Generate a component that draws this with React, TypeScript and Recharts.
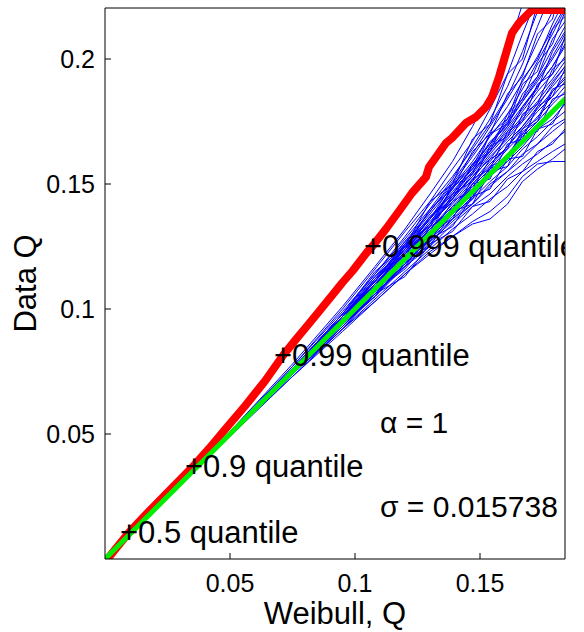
import React from 'react';
import { ComposedChart, Line, Scatter, XAxis, YAxis } from 'recharts';

const FONT = '"Liberation Sans", Arial, Helvetica, sans-serif';

// observed data quantiles (red) against Weibull quantiles
const dataTheo = [
  0.001, 0.005, 0.0096, 0.016, 0.024, 0.0356, 0.042, 0.048, 0.056, 0.064,
  0.0712, 0.076, 0.081, 0.086, 0.0908, 0.095, 0.099, 0.1044,
  0.1072, 0.1125, 0.1188, 0.1228, 0.1284, 0.1296, 0.1364, 0.1388, 0.1444, 0.1484,
  0.1524, 0.1548, 0.1576, 0.1596, 0.1628, 0.1656, 0.1708, 0.184,
];
const dataQ = [
  0.0, 0.005, 0.0106, 0.0174, 0.0256, 0.0374, 0.0446, 0.0518, 0.0612, 0.0712,
  0.0814, 0.0874, 0.0934, 0.0995, 0.1054, 0.1106, 0.1152, 0.1222,
  0.1254, 0.1322, 0.1408, 0.1464, 0.1528, 0.1568, 0.1664, 0.1684, 0.1744, 0.1768,
  0.1808, 0.1848, 0.1928, 0.1996, 0.2104, 0.2144, 0.2196, 0.2196,
];

// fitted Weibull line y = x
const fitTheo = [0, 0.184];
const fitQ = [0, 0.184];

// simulated samples, all on the same theoretical quantiles
const simTheo = [0.05, 0.075, 0.095, 0.108, 0.12, 0.13, 0.139, 0.147, 0.154, 0.161, 0.167, 0.173, 0.179, 0.184];
const simRuns = [
  [0.051, 0.078, 0.101, 0.117, 0.132, 0.146, 0.159, 0.173, 0.186, 0.203, 0.222, 0.243, 0.262, 0.280],
  [0.050, 0.077, 0.100, 0.116, 0.131, 0.143, 0.156, 0.167, 0.180, 0.194, 0.210, 0.225, 0.239, 0.254],
  [0.051, 0.077, 0.099, 0.114, 0.129, 0.142, 0.153, 0.164, 0.174, 0.185, 0.198, 0.213, 0.228, 0.242],
  [0.050, 0.076, 0.098, 0.113, 0.127, 0.139, 0.151, 0.162, 0.173, 0.184, 0.194, 0.207, 0.219, 0.230],
  [0.050, 0.076, 0.097, 0.112, 0.126, 0.138, 0.149, 0.159, 0.169, 0.178, 0.188, 0.199, 0.210, 0.220],
  [0.050, 0.076, 0.097, 0.112, 0.125, 0.136, 0.148, 0.158, 0.166, 0.176, 0.184, 0.193, 0.204, 0.213],
  [0.050, 0.076, 0.098, 0.111, 0.125, 0.137, 0.146, 0.157, 0.166, 0.174, 0.183, 0.191, 0.200, 0.208],
  [0.050, 0.075, 0.097, 0.111, 0.124, 0.136, 0.146, 0.155, 0.164, 0.173, 0.181, 0.189, 0.197, 0.205],
  [0.050, 0.076, 0.096, 0.111, 0.124, 0.134, 0.145, 0.155, 0.163, 0.171, 0.179, 0.187, 0.194, 0.201],
  [0.050, 0.075, 0.096, 0.110, 0.123, 0.135, 0.145, 0.153, 0.162, 0.170, 0.177, 0.185, 0.192, 0.199],
  [0.050, 0.076, 0.097, 0.110, 0.122, 0.133, 0.144, 0.153, 0.160, 0.169, 0.176, 0.183, 0.191, 0.197],
  [0.050, 0.075, 0.096, 0.109, 0.123, 0.134, 0.143, 0.152, 0.161, 0.168, 0.175, 0.182, 0.189, 0.195],
  [0.050, 0.075, 0.095, 0.109, 0.122, 0.132, 0.142, 0.151, 0.159, 0.167, 0.173, 0.180, 0.187, 0.193],
  [0.050, 0.075, 0.096, 0.108, 0.121, 0.132, 0.141, 0.150, 0.157, 0.165, 0.172, 0.179, 0.185, 0.191],
  [0.050, 0.075, 0.095, 0.109, 0.120, 0.131, 0.140, 0.149, 0.156, 0.164, 0.170, 0.177, 0.183, 0.189],
  [0.050, 0.075, 0.095, 0.108, 0.120, 0.130, 0.140, 0.147, 0.155, 0.162, 0.169, 0.175, 0.182, 0.187],
  [0.050, 0.075, 0.094, 0.108, 0.119, 0.129, 0.139, 0.146, 0.154, 0.160, 0.167, 0.174, 0.179, 0.185],
  [0.050, 0.074, 0.094, 0.106, 0.118, 0.128, 0.136, 0.144, 0.151, 0.157, 0.164, 0.169, 0.175, 0.179],
  [0.050, 0.074, 0.093, 0.106, 0.117, 0.127, 0.135, 0.142, 0.149, 0.155, 0.160, 0.166, 0.171, 0.175],
  [0.050, 0.074, 0.093, 0.105, 0.117, 0.125, 0.134, 0.141, 0.146, 0.153, 0.158, 0.162, 0.167, 0.171],
  [0.050, 0.074, 0.092, 0.104, 0.115, 0.124, 0.132, 0.138, 0.144, 0.149, 0.155, 0.159, 0.163, 0.166],
  [0.050, 0.073, 0.092, 0.103, 0.114, 0.122, 0.129, 0.135, 0.139, 0.145, 0.153, 0.158, 0.159, 0.159],
  [0.049, 0.073, 0.091, 0.103, 0.114, 0.123, 0.129, 0.134, 0.136, 0.142, 0.151, 0.156, 0.160, 0.164],
  [0.050, 0.076, 0.097, 0.111, 0.126, 0.139, 0.150, 0.161, 0.171, 0.181, 0.191, 0.201, 0.212, 0.221],
  [0.050, 0.076, 0.098, 0.114, 0.128, 0.140, 0.152, 0.165, 0.176, 0.189, 0.203, 0.219, 0.237, 0.252],
  [0.050, 0.076, 0.096, 0.110, 0.124, 0.136, 0.147, 0.156, 0.165, 0.175, 0.183, 0.192, 0.201, 0.210],
  [0.050, 0.075, 0.094, 0.107, 0.121, 0.132, 0.140, 0.150, 0.158, 0.165, 0.173, 0.181, 0.190, 0.197],
  [0.050, 0.074, 0.094, 0.105, 0.118, 0.126, 0.136, 0.142, 0.150, 0.155, 0.162, 0.166, 0.173, 0.176],
  [0.050, 0.075, 0.096, 0.110, 0.122, 0.134, 0.144, 0.154, 0.163, 0.172, 0.180, 0.189, 0.197, 0.206],
  [0.050, 0.075, 0.095, 0.107, 0.118, 0.129, 0.137, 0.145, 0.153, 0.159, 0.165, 0.172, 0.176, 0.182],
  [0.050, 0.076, 0.097, 0.111, 0.127, 0.136, 0.150, 0.157, 0.170, 0.176, 0.192, 0.200, 0.214, 0.224],
  [0.050, 0.075, 0.096, 0.112, 0.122, 0.137, 0.144, 0.158, 0.163, 0.178, 0.184, 0.198, 0.206, 0.219],
  [0.050, 0.076, 0.095, 0.109, 0.124, 0.131, 0.146, 0.151, 0.165, 0.169, 0.181, 0.188, 0.203, 0.211],
  [0.050, 0.074, 0.096, 0.107, 0.122, 0.129, 0.143, 0.148, 0.160, 0.164, 0.178, 0.182, 0.196, 0.200],
  [0.050, 0.075, 0.094, 0.109, 0.117, 0.131, 0.136, 0.150, 0.152, 0.166, 0.168, 0.181, 0.185, 0.196],
  [0.050, 0.075, 0.096, 0.106, 0.121, 0.127, 0.141, 0.145, 0.157, 0.160, 0.172, 0.176, 0.188, 0.190],
  [0.050, 0.074, 0.093, 0.107, 0.116, 0.128, 0.133, 0.145, 0.148, 0.160, 0.161, 0.172, 0.174, 0.183],
  [0.050, 0.076, 0.098, 0.115, 0.125, 0.143, 0.150, 0.168, 0.174, 0.194, 0.200, 0.222, 0.230, 0.250],
  [0.050, 0.075, 0.097, 0.108, 0.126, 0.133, 0.149, 0.154, 0.170, 0.174, 0.190, 0.195, 0.212, 0.217],
  [0.050, 0.074, 0.095, 0.105, 0.120, 0.125, 0.139, 0.142, 0.155, 0.157, 0.170, 0.171, 0.184, 0.186],
  [0.050, 0.075, 0.094, 0.110, 0.118, 0.133, 0.138, 0.152, 0.156, 0.171, 0.175, 0.190, 0.194, 0.209],
  [0.050, 0.076, 0.097, 0.113, 0.124, 0.140, 0.148, 0.163, 0.170, 0.186, 0.193, 0.210, 0.216, 0.235],
  [0.050, 0.074, 0.092, 0.106, 0.113, 0.126, 0.131, 0.141, 0.143, 0.152, 0.155, 0.163, 0.166, 0.172],
  [0.050, 0.075, 0.095, 0.107, 0.120, 0.128, 0.138, 0.144, 0.156, 0.160, 0.171, 0.175, 0.187, 0.192],
  [0.050, 0.076, 0.096, 0.109, 0.125, 0.134, 0.149, 0.156, 0.167, 0.173, 0.186, 0.193, 0.208, 0.215],
];

// marked quantiles on the data curve
const quantileNames = ['0.5', '0.9', '0.99', '0.999'];
const quantileTheo = [0.0096, 0.0356, 0.0712, 0.1072];
const quantileData = [0.0108, 0.0372, 0.0816, 0.1252];

// fitted parameters text
const paramText = ['α = 1', 'σ = 0.015738'];
const paramTheo = [0.11, 0.11];
const paramQ = [0.0548, 0.0212];

const xTicks = [0.05, 0.1, 0.15];
const yTicks = [0.05, 0.1, 0.15, 0.2];

const toPoints = (xs: number[], ys: number[]) => xs.map((x, i) => ({ x, y: ys[i] }));

const dataPoints = toPoints(dataTheo, dataQ);
const fitPoints = toPoints(fitTheo, fitQ);
const simPoints = simRuns.map(run => toPoints(simTheo, run));
const quantilePoints = quantileNames.map((name, i) => ({ x: quantileTheo[i], y: quantileData[i], name }));
const paramPoints = paramText.map((label, i) => ({ x: paramTheo[i], y: paramQ[i], label }));

const QuantileMark = (props: any) => {
  const { cx, cy, payload } = props;
  return (
    <text x={cx - 9} y={cy + 11} fontSize={31} fontFamily={FONT} fill="#000">
      {'+' + payload.name + ' quantile'}
    </text>
  );
};

const ParamMark = (props: any) => {
  const { cx, cy, payload } = props;
  return (
    <text x={cx} y={cy + 11} fontSize={30} fontFamily={FONT} fill="#000">
      {payload.label}
    </text>
  );
};

const tickStyle = { fill: '#000', fontSize: 25, fontFamily: FONT };

export default function App() {
  return (
    <div style={{ position: 'absolute', left: 0, top: 0, width: 584, height: 632, background: '#fff', fontFamily: FONT }}>
      <ComposedChart width={584} height={632} margin={{ top: 7, right: 18, bottom: 0, left: 0 }}>
        <XAxis
          dataKey="x"
          type="number"
          domain={[0, 0.184]}
          allowDataOverflow
          ticks={xTicks}
          stroke="#000"
          tickSize={-6}
          tickMargin={21}
          tick={tickStyle}
          height={73}
          label={{ value: 'Weibull, Q', position: 'insideBottom', offset: 8, fill: '#000', fontSize: 31, fontFamily: FONT }}
        />
        <XAxis
          xAxisId="top"
          orientation="top"
          type="number"
          domain={[0, 0.184]}
          allowDataOverflow
          ticks={xTicks}
          stroke="#000"
          tickSize={-6}
          tick={false}
          height={1}
        />
        <YAxis
          dataKey="y"
          type="number"
          domain={[0, 0.2204]}
          allowDataOverflow
          ticks={yTicks}
          stroke="#000"
          tickSize={-6}
          tickMargin={16}
          tick={tickStyle}
          width={105}
          label={{ value: 'Data Q', angle: -90, position: 'center', dx: -28, fill: '#000', fontSize: 31, fontFamily: FONT }}
        />
        <YAxis
          yAxisId="right"
          orientation="right"
          type="number"
          domain={[0, 0.2204]}
          allowDataOverflow
          ticks={yTicks}
          stroke="#000"
          tickSize={-6}
          tick={false}
          width={1}
        />
        {simPoints.map((pts, i) => (
          <Line
            key={'sim' + i}
            data={pts}
            dataKey="y"
            type="linear"
            stroke="#0000ff"
            strokeWidth={1}
            dot={false}
            activeDot={false}
            isAnimationActive={false}
          />
        ))}
        <Line
          data={dataPoints}
          dataKey="y"
          type="linear"
          stroke="#ff0000"
          strokeWidth={8}
          strokeLinejoin="round"
          dot={false}
          activeDot={false}
          isAnimationActive={false}
        />
        <Line
          data={fitPoints}
          dataKey="y"
          type="linear"
          stroke="#00ee00"
          strokeWidth={5}
          dot={false}
          activeDot={false}
          isAnimationActive={false}
        />
        <Scatter data={quantilePoints} dataKey="y" shape={QuantileMark} isAnimationActive={false} />
        <Scatter data={paramPoints} dataKey="y" shape={ParamMark} isAnimationActive={false} />
      </ComposedChart>
    </div>
  );
}
